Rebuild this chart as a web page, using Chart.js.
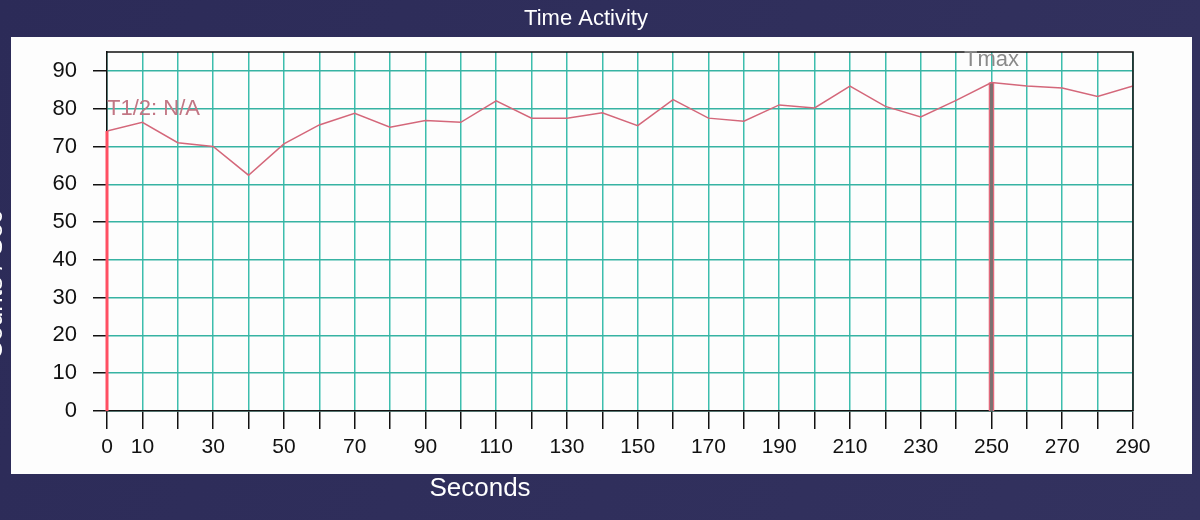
<!DOCTYPE html>
<html>
<head>
<meta charset="utf-8">
<script src="https://cdn.jsdelivr.net/npm/chart.js@4/dist/chart.umd.min.js"></script>
<style>
  html, body { margin: 0; padding: 0; background: #2e2d5c; }
  #wrap { width: 1200px; height: 520px; }
</style>
</head>
<body>
<div id="wrap"><canvas id="chart" width="1200" height="520"></canvas></div>
<script>
// time activity curve, one sample every 10 s
const seconds = [0, 10, 20, 30, 40, 50, 60, 70, 80, 90, 100, 110, 120, 130, 140,
  150, 160, 170, 180, 190, 200, 210, 220, 230, 240, 250, 260, 270, 280, 290]
const counts = [74.1, 76.4, 71, 70, 62.4, 70.7, 75.7, 78.8, 75.1, 76.9, 76.4, 82.1, 77.5, 77.5, 78.9,
  75.5, 82.4, 77.5, 76.7, 81, 80.2, 86, 80.6, 77.8, 82.2, 86.9, 86, 85.5, 83.2, 86]
const xTickLabels = [0, 10, 30, 50, 70, 90, 110, 130, 150, 170, 190, 210, 230, 250, 270, 290]
const yTickLabels = [0, 10, 20, 30, 40, 50, 60, 70, 80, 90]
const halfLifeText = "T1/2: N/A"

const FONT = "'Liberation Sans', Arial, sans-serif"

// peak position for the Tmax marker
let peak = 0
counts.forEach((c, i) => { if (c > counts[peak]) peak = i })
const tmax = seconds[peak]

const backdrop = {
  id: "backdrop",
  beforeDraw(chart) {
    const ctx = chart.ctx
    ctx.save()
    const g = ctx.createLinearGradient(0, 0, 1200, 520)
    g.addColorStop(0, "#2c2b58")
    g.addColorStop(1, "#33325f")
    ctx.fillStyle = g
    ctx.fillRect(0, 0, chart.width, chart.height)
    ctx.fillStyle = "#fdfdfd"
    ctx.fillRect(11, 37, 1181, 437)
    ctx.restore()
  }
}

const texts = {
  id: "texts",
  afterDraw(chart) {
    const ctx = chart.ctx
    const a = chart.chartArea
    const x = chart.scales.x
    const y = chart.scales.y
    ctx.save()
    // top and right frame
    ctx.strokeStyle = "#111"
    ctx.lineWidth = 1.5
    ctx.beginPath()
    ctx.moveTo(a.left, a.top)
    ctx.lineTo(a.right, a.top)
    ctx.lineTo(a.right, a.bottom)
    ctx.stroke()

    ctx.textAlign = "center"
    ctx.textBaseline = "middle"
    ctx.fillStyle = "#ffffff"
    ctx.font = "22px " + FONT
    ctx.fillText("Time Activity", 586, 19)
    ctx.font = "26px " + FONT
    ctx.fillText("Seconds", 480, 489)

    ctx.save()
    ctx.translate(-5, 285)
    ctx.rotate(-Math.PI / 2)
    ctx.fillText("Counts / Sec", 0, 0)
    ctx.restore()

    ctx.font = "22px " + FONT
    ctx.fillStyle = "#c27684"
    ctx.textAlign = "left"
    ctx.fillText(halfLifeText, a.left, y.getPixelForValue(80))
    ctx.fillStyle = "#8a8a8a"
    ctx.textAlign = "center"
    ctx.fillText("Tmax", x.getPixelForValue(tmax), a.top + 8)
    ctx.restore()
  }
}

new Chart(document.getElementById("chart"), {
  type: "line",
  data: {
    datasets: [
      {
        data: seconds.map((s, i) => ({ x: s, y: counts[i] })),
        borderColor: "#d4677a",
        borderWidth: 1.5,
        pointRadius: 0,
        tension: 0
      },
      {
        data: [{ x: seconds[0], y: 0 }, { x: seconds[0], y: counts[0] }],
        borderColor: "#ff4f62",
        borderWidth: 3,
        pointRadius: 0,
        clip: false
      },
      // grey core of the Tmax marker, drawn above the pink edge below
      {
        data: [{ x: tmax, y: 0 }, { x: tmax, y: counts[peak] }],
        borderColor: "#7b7272",
        borderWidth: 3,
        pointRadius: 0
      },
      {
        data: [{ x: tmax, y: 0 }, { x: tmax, y: counts[peak] }],
        borderColor: "#e36a7c",
        borderWidth: 5.5,
        pointRadius: 0
      }
    ]
  },
  options: {
    responsive: false,
    animation: false,
    layout: { padding: { left: 10, top: 52, right: 67, bottom: 46 } },
    plugins: {
      legend: { display: false },
      title: { display: false },
      tooltip: { enabled: false }
    },
    scales: {
      x: {
        type: "linear",
        min: 0,
        max: 290,
        afterFit: s => { s.height = 63 },
        grid: { color: "#3dbdad", lineWidth: 1.5, tickColor: "#111", tickLength: 18 },
        border: { color: "#111", width: 1.5 },
        ticks: {
          stepSize: 10,
          autoSkip: false,
          maxRotation: 0,
          padding: 6,
          color: "#111",
          font: { family: FONT, size: 21 },
          callback: v => xTickLabels.includes(v) ? String(v) : ""
        }
      },
      y: {
        min: 0,
        max: 95,
        afterFit: s => { s.width = 97 },
        afterBuildTicks: s => { s.ticks = yTickLabels.map(v => ({ value: v })) },
        grid: { color: "#37b3a3", lineWidth: 1.5, tickColor: "#111", tickLength: 14 },
        border: { color: "#111", width: 1.5 },
        ticks: {
          padding: 16,
          color: "#111",
          font: { family: FONT, size: 22 }
        }
      }
    }
  },
  plugins: [backdrop, texts]
})
</script>
</body>
</html>
